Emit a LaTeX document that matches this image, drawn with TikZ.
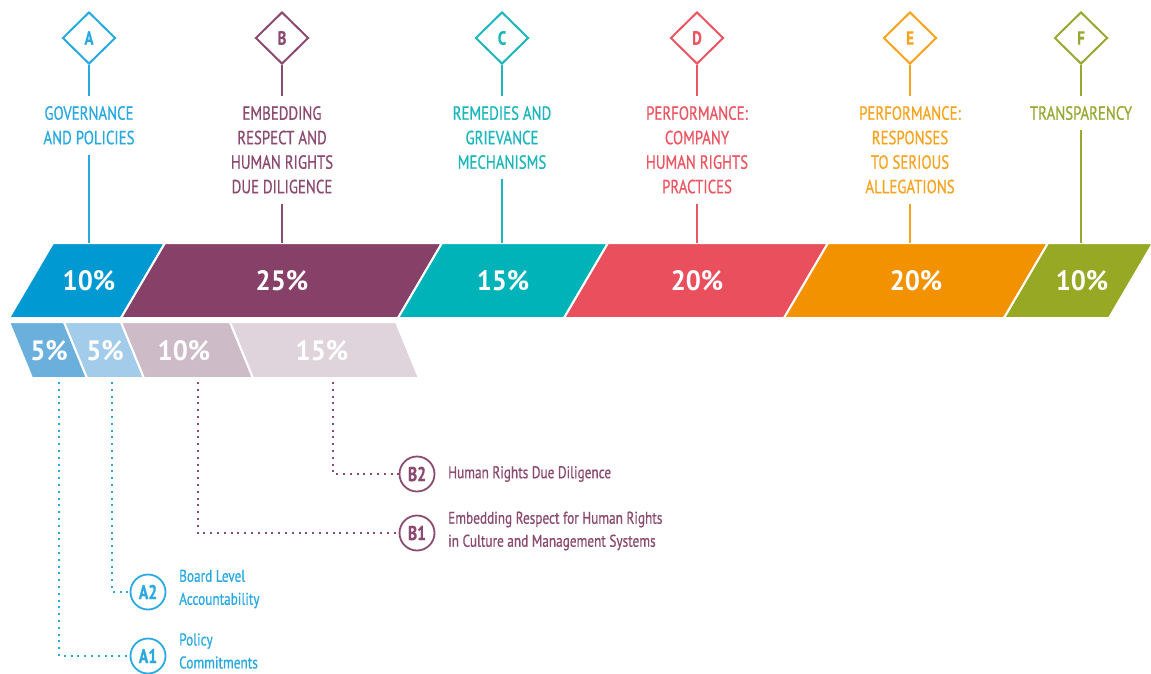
\documentclass[tikz,border=0pt]{standalone}
\usepackage{fontspec}
\setmainfont{PT Sans}
\newfontfamily\condf{PT Sans}[FakeStretch=0.78,FakeBold=0.7]
\newfontfamily\pctf{PT Sans}[FakeStretch=0.95]
\usetikzlibrary{shapes.geometric}

% pillar colours: bar fill and text/line tone
\definecolor{barA}{HTML}{0099D1}\definecolor{inkA}{HTML}{2AA9E0}
\definecolor{barB}{HTML}{874168}\definecolor{inkB}{HTML}{8B4A70}
\definecolor{barC}{HTML}{00B3B9}\definecolor{inkC}{HTML}{1DB6BA}
\definecolor{barD}{HTML}{E94F5C}\definecolor{inkD}{HTML}{EA5662}
\definecolor{barE}{HTML}{F39200}\definecolor{inkE}{HTML}{F6A420}
\definecolor{barF}{HTML}{96A824}\definecolor{inkF}{HTML}{94AA33}
% sub-indicator fills
\definecolor{subAa}{HTML}{6BAFDC}\definecolor{subAb}{HTML}{A3CCEB}
\definecolor{subBa}{HTML}{CDBBC7}\definecolor{subBb}{HTML}{DFD4DB}

\tikzset{
  letterbox/.style={diamond, draw, line width=2pt, minimum width=53pt, minimum height=52pt,
    inner sep=0pt, fill=white, font=\condf\bfseries\fontsize{19}{19}\selectfont},
  heading/.style={align=center, anchor=north, inner xsep=2pt, inner ysep=10pt,
    font=\condf\fontsize{19}{24.5}\selectfont},
  stem/.style={line width=2pt},
  pct/.style={text=white, font=\pctf\bfseries\fontsize{28}{28}\selectfont},
  badge/.style={circle, draw, line width=1.8pt, minimum size=35pt, inner sep=0pt,
    fill=white, font=\condf\bfseries\fontsize{20}{20}\selectfont},
  desc/.style={align=left, anchor=west, inner sep=0pt,
    font=\condf\fontsize{17}{23}\selectfont},
  dots/.style={line width=2pt, dash pattern=on 2pt off 4.8pt},
  gap/.style={draw=white, line width=2pt, line join=miter}
}

\begin{document}
\begin{tikzpicture}[x=1pt,y=-1pt]
\useasboundingbox (0,0) rectangle (1151,673);

% ---- main weighting bar (slanted segments) ----
\foreach \l/\r/\c in {53/165/barA,165/442/barB,442/608/barC,608/828/barD,828/1048/barE,1048/1153/barF}{
  \filldraw[fill=\c, gap] (\l,243) -- (\r,243) -- ({\r-44},318) -- ({\l-44},318) -- cycle;
}
\node[pct] (pA) at (89,281) {10\%};
\node[pct] (pB) at (282,281) {25\%};
\node[pct] (pC) at (503,281) {15\%};
\node[pct] (pD) at (697,281) {20\%};
\node[pct] (pE) at (916,281) {20\%};
\node[pct] (pF) at (1082,281) {10\%};

% ---- sub-indicator bar (opposite slant) ----
\foreach \l/\r/\c in {9/64/subAa,64/121/subAb,121/230/subBa,230/396/subBb}{
  \filldraw[fill=\c, gap] (\l,322) -- (\r,322) -- ({\r+23},378) -- ({\l+23},378) -- cycle;
}
\node[pct] (qA1) at (49,351) {5\%};
\node[pct] (qA2) at (105,351) {5\%};
\node[pct] (qB1) at (184,351) {10\%};
\node[pct] (qB2) at (322,351) {15\%};

% ---- pillar headers ----
\foreach \k/\x/\txt in {A/89/{GOVERNANCE\\AND POLICIES},
  B/282/{EMBEDDING\\RESPECT AND\\HUMAN RIGHTS\\DUE DILIGENCE},
  C/502/{REMEDIES AND\\GRIEVANCE\\MECHANISMS},
  D/697/{PERFORMANCE:\\COMPANY\\HUMAN RIGHTS\\PRACTICES},
  E/910/{PERFORMANCE:\\RESPONSES\\TO SERIOUS\\ALLEGATIONS},
  F/1081/{TRANSPARENCY}}{
  \node[letterbox, draw=ink\k, text=ink\k] (d\k) at (\x,38) {\k};
  \node[heading, text=ink\k] (h\k) at (\x,96) {\txt};
  \coordinate (t\k) at (\x,243);
  \draw[stem, ink\k] (d\k.south) -- (h\k.north);
  \draw[stem, ink\k] (h\k.south) -- (t\k);
}

% ---- sub-indicator callouts ----
\coordinate (sA1) at (59,382);
\coordinate (sA2) at (112,382);
\coordinate (sB1) at (198,382);
\coordinate (sB2) at (333,382);

\node[badge, draw=inkA, text=inkA] (A1) at (148,656) {A1};
\node[badge, draw=inkA, text=inkA] (A2) at (148,592) {A2};
\node[badge, draw=inkB, text=inkB] (B1) at (417,533) {B1};
\node[badge, draw=inkB, text=inkB] (B2) at (417,474) {B2};

\draw[dots, inkA] (sA1) |- (A1.west);
\draw[dots, inkA] (sA2) |- (A2.west);
\draw[dots, inkB] (sB1) |- (B1.west);
\draw[dots, inkB] (sB2) |- (B2.west);

\node[desc, text=inkA] (lA1) at (179,651) {Policy\\Commitments};
\node[desc, text=inkA] (lA2) at (179,589) {Board Level\\Accountability};
\node[desc, text=inkB] (lB2) at (448,474) {Human Rights Due Diligence};
\node[desc, text=inkB] (lB1) at (448,531) {Embedding Respect for Human Rights\\in Culture and Management Systems};
\end{tikzpicture}
\end{document}
